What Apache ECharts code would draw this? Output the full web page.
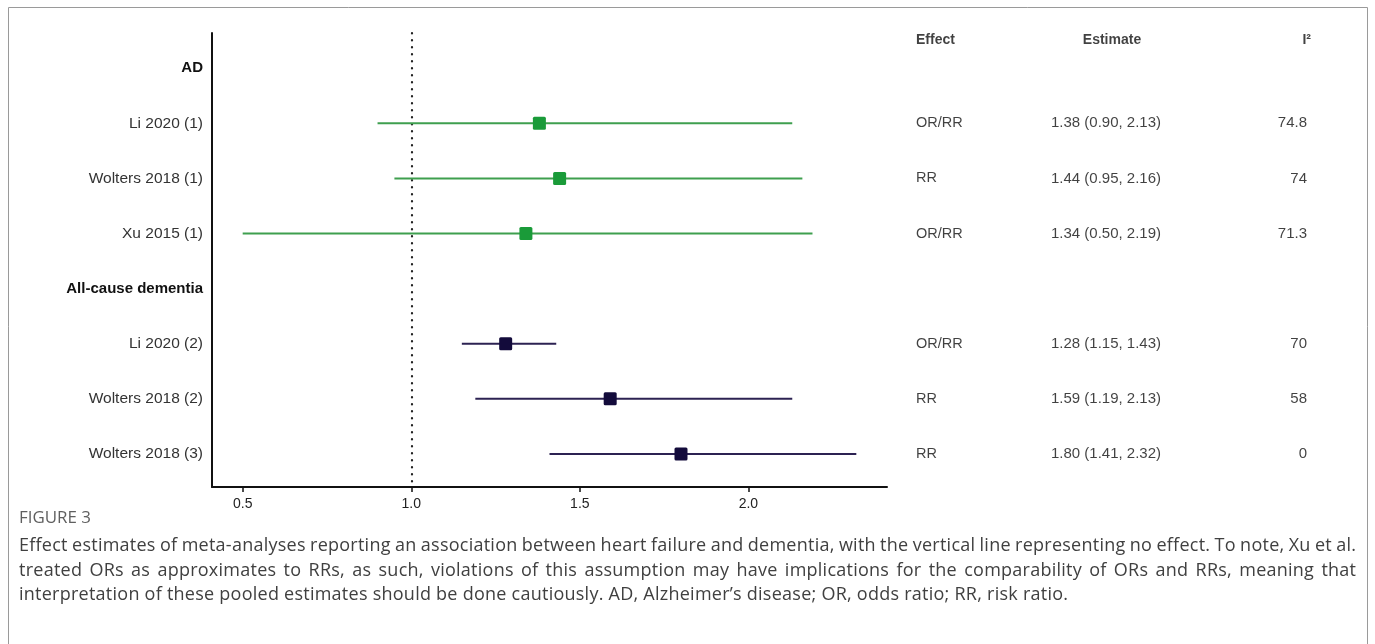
<!DOCTYPE html>
<html>
<head>
<meta charset="utf-8">
<script src="https://cdn.jsdelivr.net/npm/echarts@6/dist/echarts.min.js"></script>
<style>
  html, body { margin: 0; padding: 0; background: #fff; }
  #chart { width: 1375px; height: 644px; }
</style>
</head>
<body>
<div id="chart"></div>
<script>
// ---------------- DATA ----------------
const rows = ['AD', 'Li 2020 (1)', 'Wolters 2018 (1)', 'Xu 2015 (1)', 'All-cause dementia', 'Li 2020 (2)', 'Wolters 2018 (2)', 'Wolters 2018 (3)'];
const groups = ['AD', 'All-cause dementia'];
const studies = ['Li 2020 (1)', 'Wolters 2018 (1)', 'Xu 2015 (1)', 'Li 2020 (2)', 'Wolters 2018 (2)', 'Wolters 2018 (3)'];
const studyGroup = ['AD', 'AD', 'AD', 'All-cause dementia', 'All-cause dementia', 'All-cause dementia'];
const estimate = [1.38, 1.44, 1.34, 1.28, 1.59, 1.80];
const lower = [0.90, 0.95, 0.50, 1.15, 1.19, 1.41];
const upper = [2.13, 2.16, 2.19, 1.43, 2.13, 2.32];
const effectType = ['OR/RR', 'RR', 'OR/RR', 'OR/RR', 'RR', 'RR'];
const i2 = ['74.8', '74', '71.3', '70', '58', '0'];
const tableHeaders = ['Effect', 'Estimate', 'I²'];
const xTicks = [0.5, 1.0, 1.5, 2.0];
const nullEffect = 1.0;
const figureLabel = 'FIGURE 3';
const captionLines = [
  'Effect estimates of meta-analyses reporting an association between heart failure and dementia, with the vertical line representing no effect. To note, Xu et al.',
  'treated ORs as approximates to RRs, as such, violations of this assumption may have implications for the comparability of ORs and RRs, meaning that',
  'interpretation of these pooled estimates should be done cautiously. AD, Alzheimer\u2019s disease; OR, odds ratio; RR, risk ratio.'
];

// ---------------- LAYOUT / STYLE ----------------
const FONT = '"Liberation Sans", Arial, Helvetica, sans-serif';
const CAP_FONT = '"Open Sans", "Noto Sans", sans-serif';
const groupColors = [
  { line: '#3f9f4f', box: '#1a9b39' },
  { line: '#2c2252', box: '#130b3b' }
];
const HEADER_Y = 0.49;
const COL_EFFECT = 916, COL_EST = 1106, COL_EST_HEAD = 1112, COL_I2 = 1307, COL_I2_HEAD = 1311;

const chart = echarts.init(document.getElementById('chart'), null, { renderer: 'canvas' });

const forestData = studies.map((s, i) => [lower[i], upper[i], estimate[i], rows.indexOf(s) + 1, groups.indexOf(studyGroup[i])]);

function renderItem(params, api) {
  const y = api.value(3);
  const lo = api.coord([api.value(0), y]);
  const hi = api.coord([api.value(1), y]);
  const pt = api.coord([api.value(2), y]);
  const c = groupColors[api.value(4)];
  return {
    type: 'group',
    children: [
      { type: 'line', shape: { x1: lo[0], y1: lo[1], x2: hi[0], y2: hi[1] }, style: { stroke: c.line, lineWidth: 2 } },
      { type: 'rect', shape: { x: pt[0] - 6.5, y: pt[1] - 6.5, width: 13, height: 13, r: 1.5 }, style: { fill: c.box } }
    ]
  };
}

function tableSeries(name, xPos, align, texts, yVals, bold, size) {
  return {
    name: name,
    type: 'scatter',
    xAxisIndex: 1, yAxisIndex: 1,
    symbolSize: 0,
    silent: true,
    data: texts.map((t, i) => [xPos, yVals[i], i]),
    label: {
      show: true,
      position: 'inside',
      align: align,
      verticalAlign: 'middle',
      formatter: p => texts[p.value[2]],
      color: '#111',
      fontFamily: FONT,
      fontSize: size,
      fontWeight: bold ? 'bold' : 'normal'
    }
  };
}

const studyY = studies.map(s => rows.indexOf(s) + 1);

// caption layout: small letter spacing fitted to last line, word spacing justified on others
const measureCtx = document.createElement('canvas').getContext('2d');
function textW(t, font) { measureCtx.font = font; return measureCtx.measureText(t).width; }
const capLeft = 19;
const lineRight = [1356, 1356, 1068];
const capSize = 18;
const capFontStr = capSize + 'px ' + CAP_FONT;
const lastLine = captionLines[2];
let ls = (lineRight[2] - capLeft - textW(lastLine, capFontStr)) / (lastLine.length - 1);
ls = Math.max(0, Math.min(0.8, ls));
let figSize = 14 * 72 / textW(figureLabel, '14px ' + CAP_FONT);
figSize = Math.max(11, Math.min(17, figSize));
const capY = [546, 571, 595];
const captionGraphics = [];
function wordWidth(w) { return textW(w, capFontStr) + ls * (w.length - 1); }
captionLines.forEach((line, li) => {
  const words = line.split(' ');
  const widths = words.map(wordWidth);
  const total = widths.reduce((a, b) => a + b, 0);
  let gap = (lineRight[li] - capLeft - total) / (words.length - 1);
  if (li === captionLines.length - 1) gap = Math.min(gap, textW(' ', capFontStr) + ls * 2);
  let x = capLeft;
  words.forEach((w, wi) => {
    for (let k = 0; k < w.length; k++) {
      const cx = x + textW(w.slice(0, k), capFontStr) + ls * k;
      captionGraphics.push({ type: 'text', silent: true, x: cx, y: capY[li], style: { text: w[k], font: capFontStr, fill: '#404040', textVerticalAlign: 'middle' } });
    }
    x += widths[wi] + gap;
  });
});

const option = {
  animation: false,
  backgroundColor: '#fff',
  grid: [
    { left: 212, right: 488, top: 33, bottom: 157 },
    { left: 887, right: 0, top: 33, bottom: 157 }
  ],
  xAxis: [
    {
      type: 'value', gridIndex: 0, min: 0.409, max: 2.411,
      axisLine: { show: true, lineStyle: { color: '#111', width: 2 } },
      axisTick: { show: true, length: 5, lineStyle: { color: '#111', width: 1.5 }, customValues: xTicks },
      axisLabel: { customValues: xTicks, formatter: v => v.toFixed(1), color: '#222', fontFamily: FONT, fontSize: 14, margin: 10 },
      splitLine: { show: false }
    },
    { type: 'value', gridIndex: 1, min: 887, max: 1375, show: false }
  ],
  yAxis: [
    {
      type: 'value', gridIndex: 0, min: 0.36, max: 8.6, inverse: true,
      axisLine: { show: true, lineStyle: { color: '#111', width: 2 } },
      axisTick: { show: false },
      splitLine: { show: false },
      axisLabel: {
        customValues: rows.map((r, i) => i + 1),
        margin: 9,
        formatter: v => {
          const r = rows[Math.round(v) - 1];
          return groups.includes(r) ? '{b|' + r + '}' : '{n|' + r + '}';
        },
        rich: {
          b: { fontFamily: FONT, fontSize: 15, fontWeight: 'bold', color: '#111' },
          n: { fontFamily: FONT, fontSize: 15.5, color: '#333' }
        }
      }
    },
    { type: 'value', gridIndex: 1, min: 0.36, max: 8.6, inverse: true, show: false }
  ],
  series: [
    {
      type: 'custom',
      name: 'forest',
      xAxisIndex: 0, yAxisIndex: 0,
      renderItem: renderItem,
      encode: { x: [0, 1, 2], y: 3 },
      data: forestData,
      z: 3,
      markLine: {
        silent: true,
        symbol: 'none',
        label: { show: false },
        lineStyle: { color: '#222', width: 2.2, type: [0.5, 6.5], cap: 'round' },
        data: [{ xAxis: nullEffect }],
        z: 2
      }
    },
    tableSeries('hdrEffect', COL_EFFECT, 'left', [tableHeaders[0]], [HEADER_Y], true, 14),
    tableSeries('hdrEst', COL_EST_HEAD, 'center', [tableHeaders[1]], [HEADER_Y], true, 14),
    tableSeries('hdrI2', COL_I2_HEAD, 'right', [tableHeaders[2]], [HEADER_Y], true, 14),
    tableSeries('effect', COL_EFFECT, 'left', effectType, studyY, false, 14.5),
    tableSeries('estimate', COL_EST, 'center', estimate.map((e, i) => e.toFixed(2) + ' (' + lower[i].toFixed(2) + ', ' + upper[i].toFixed(2) + ')'), studyY, false, 15),
    tableSeries('i2', COL_I2, 'right', i2, studyY, false, 15)
  ],
  graphic: [
    { type: 'rect', silent: true, shape: { x: 8.5, y: 7.5, width: 1359, height: 700 }, style: { fill: 'none', stroke: '#9a9a9a', lineWidth: 1 } },
    { type: 'text', silent: true, x: capLeft, y: 518, style: { text: figureLabel, font: figSize.toFixed(2) + 'px ' + CAP_FONT, fill: '#5f5f5f', textVerticalAlign: 'middle' } }
  ].concat(captionGraphics)
};

chart.setOption(option);
</script>
</body>
</html>
